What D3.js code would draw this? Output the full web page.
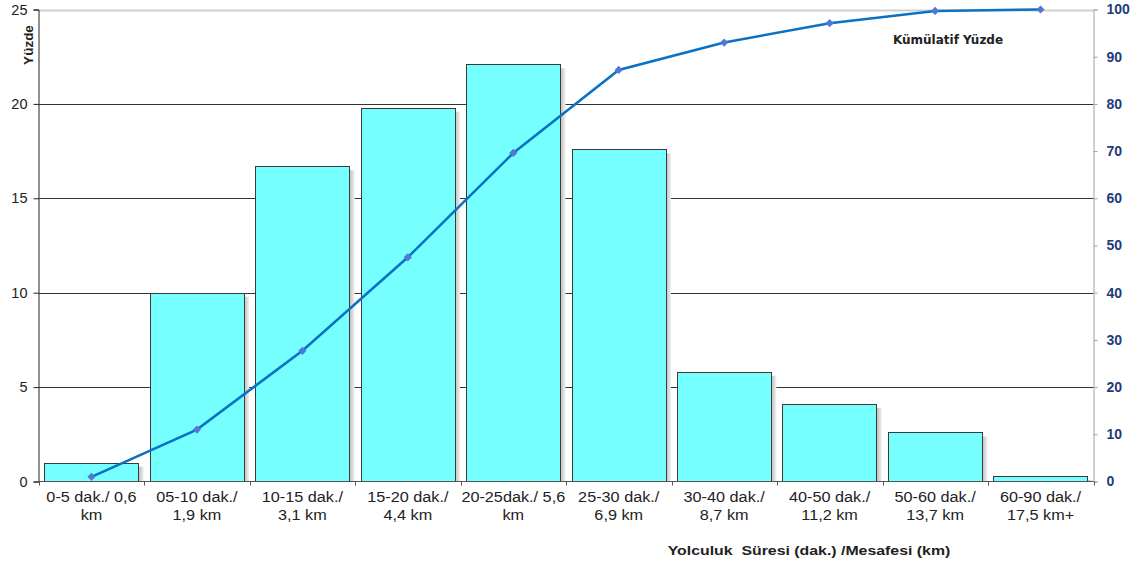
<!DOCTYPE html>
<html>
<head>
<meta charset="utf-8">
<script src="https://cdn.jsdelivr.net/npm/d3@7"></script>
<style>
  body { margin: 0; background: #fff; }
  svg { font-family: "Liberation Sans", Arial, sans-serif; }
</style>
</head>
<body>
<div class="chart"></div>
<script>
// data
var categories = [
  ["0-5 dak./ 0,6", "km"],
  ["05-10 dak./", "1,9 km"],
  ["10-15 dak./", "3,1 km"],
  ["15-20 dak./", "4,4 km"],
  ["20-25dak./ 5,6", "km"],
  ["25-30 dak./", "6,9 km"],
  ["30-40 dak./", "8,7 km"],
  ["40-50 dak./", "11,2 km"],
  ["50-60 dak./", "13,7 km"],
  ["60-90 dak./", "17,5 km+"]
];
var percent = [1.0, 10.0, 16.7, 19.8, 22.1, 17.6, 5.8, 4.1, 2.6, 0.3];
var cumulative = [1.0, 11.0, 27.7, 47.5, 69.6, 87.2, 93.0, 97.1, 99.7, 100];
var leftTicks = [0, 5, 10, 15, 20, 25];
var rightTicks = [0, 10, 20, 30, 40, 50, 60, 70, 80, 90, 100];

var width = 1143, height = 564;
var mLeft = 38.5, mRight = 1093.5, mTop = 9.5, mBottom = 481.5;

var svg = d3.select(".chart").append("svg")
  .attr("width", width)
  .attr("height", height);

var x = d3.scaleBand()
  .domain(d3.range(categories.length))
  .range([mLeft, mRight])
  .paddingInner(0.105)
  .paddingOuter(0.055);

var y = d3.scaleLinear().domain([0, 25]).range([mBottom, mTop]);
var y2 = d3.scaleLinear().domain([0, 100]).range([mBottom, mTop]);

// gridlines
svg.append("g").selectAll("line")
  .data(leftTicks.filter(function (d) { return d > 0; }))
  .enter().append("line")
  .attr("x1", mLeft).attr("x2", mRight)
  .attr("y1", function (d) { return Math.round(y(d)) + 0.5; })
  .attr("y2", function (d) { return Math.round(y(d)) + 0.5; })
  .style("stroke", function (d) { return d == 25 ? "#cfcfcf" : "#333"; })
  .style("stroke-width", function (d) { return d == 25 ? 2 : 1; });

// bar shadows
var defs = svg.append("defs");
var grad = defs.append("linearGradient").attr("id", "shade");
grad.append("stop").attr("offset", "0%").attr("stop-color", "#bdbdbd");
grad.append("stop").attr("offset", "100%").attr("stop-color", "#f0f0f0");

svg.append("g").selectAll("rect")
  .data(percent)
  .enter().append("rect")
  .attr("x", function (d, i) { return x(i) + x.bandwidth(); })
  .attr("y", function (d) { return y(d) + 4; })
  .attr("width", 5)
  .attr("height", function (d) { return Math.max(0, mBottom - y(d) - 4); })
  .style("fill", "url(#shade)");

// bars
svg.append("g").selectAll("rect")
  .data(percent)
  .enter().append("rect")
  .attr("x", function (d, i) { return Math.round(x(i)) + 0.5; })
  .attr("y", function (d) { return Math.round(y(d)) + 0.5; })
  .attr("width", Math.round(x.bandwidth()))
  .attr("height", function (d) { return mBottom - Math.round(y(d)) - 0.5; })
  .style("fill", "#75ffff")
  .style("stroke", "#3a3a3a")
  .style("stroke-width", 1);

// left axis
var yAxis = svg.append("g")
  .attr("transform", "translate(" + mLeft + ",0)")
  .call(d3.axisLeft(y).tickValues(leftTicks).tickSize(5).tickPadding(6));
yAxis.select(".domain").style("stroke", "#222");
yAxis.selectAll(".tick line").style("stroke", "#222");
yAxis.selectAll("text")
  .style("font-size", "14.5px")
  .style("fill", "#222");

// right axis
var yAxis2 = svg.append("g")
  .attr("transform", "translate(" + mRight + ",0)")
  .call(d3.axisRight(y2).tickValues(rightTicks).tickSize(4).tickPadding(9));
yAxis2.select(".domain").style("stroke", "#a0a0a0");
yAxis2.selectAll(".tick line").style("stroke", "#a0a0a0");
yAxis2.selectAll("text")
  .style("font-size", "14px")
  .style("font-weight", "bold")
  .style("fill", "#1f3b7a");

// baseline and category ticks
svg.append("line")
  .attr("x1", mLeft).attr("x2", mRight)
  .attr("y1", mBottom).attr("y2", mBottom)
  .style("stroke", "#555");

svg.append("g").selectAll("line")
  .data(d3.range(categories.length + 1))
  .enter().append("line")
  .attr("x1", function (i) { return Math.round(mLeft + i * (mRight - mLeft) / categories.length) + 0.5; })
  .attr("x2", function (i) { return Math.round(mLeft + i * (mRight - mLeft) / categories.length) + 0.5; })
  .attr("y1", mBottom).attr("y2", mBottom + 4)
  .style("stroke", "#555");

// category labels (the original text is a bit stretched sideways)
var labels = svg.append("g").selectAll("text")
  .data(categories)
  .enter().append("text")
  .attr("transform", function (d, i) {
    return "translate(" + (x(i) + x.bandwidth() / 2) + ",0) scale(1.16,1)";
  })
  .attr("text-anchor", "middle")
  .style("font-size", "14px")
  .style("fill", "#222");
labels.each(function (d) {
  var t = d3.select(this);
  t.append("tspan").attr("x", 0).attr("y", 502).text(d[0]);
  t.append("tspan").attr("x", 0).attr("y", 520).text(d[1]);
});

// cumulative line
var line = d3.line()
  .x(function (d, i) { return x(i) + x.bandwidth() / 2; })
  .y(function (d) { return y2(d); });

svg.append("path")
  .datum(cumulative)
  .attr("d", line)
  .style("fill", "none")
  .style("stroke", "#0a72c4")
  .style("stroke-width", 2.5);

svg.append("g").selectAll("path")
  .data(cumulative)
  .enter().append("path")
  .attr("transform", function (d, i) {
    return "translate(" + (x(i) + x.bandwidth() / 2) + "," + y2(d) + ") rotate(45)";
  })
  .attr("d", d3.symbol().type(d3.symbolSquare).size(34))
  .style("fill", "#5577d4");

// titles
svg.append("text")
  .attr("transform", "translate(33,45) rotate(-90)")
  .attr("text-anchor", "middle")
  .style("font-size", "13.5px")
  .style("font-weight", "bold")
  .style("fill", "#222")
  .text("Yüzde");

svg.append("text")
  .attr("x", 948).attr("y", 44)
  .attr("text-anchor", "middle")
  .style("font-family", "'DejaVu Sans', sans-serif")
  .style("font-size", "12px")
  .style("font-weight", "bold")
  .style("fill", "#222")
  .text("Kümülatif Yüzde");

svg.append("text")
  .attr("transform", "translate(809,555) scale(1.22,1)")
  .attr("text-anchor", "middle")
  .style("font-size", "13px")
  .style("font-weight", "bold")
  .style("fill", "#222")
  .style("white-space", "pre")
  .text("Yolculuk  Süresi (dak.) /Mesafesi (km)");
</script>
</body>
</html>
